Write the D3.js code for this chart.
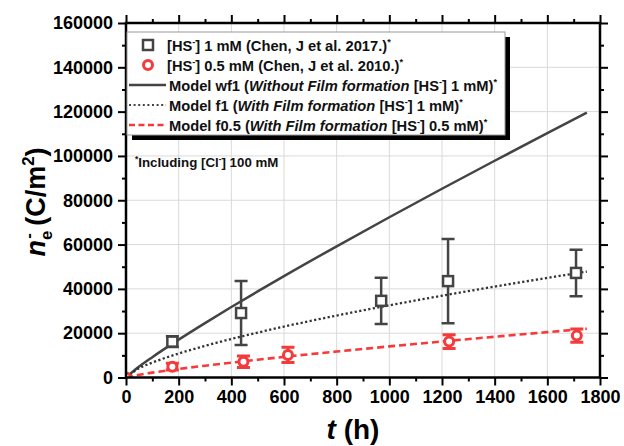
<!DOCTYPE html>
<html>
<head>
<meta charset="utf-8">
<script src="https://cdn.jsdelivr.net/npm/d3@7"></script>
<style>
  body { margin: 0; background: #fff; }
  text { font-family: Arial, "Liberation Sans", sans-serif; font-weight: bold; }
</style>
</head>
<body>
<div id="chart"></div>
<script>
// data
var sq_t   = [176, 437, 969, 1223, 1709];
var sq_v   = [16200, 29100, 34600, 43500, 47200];
var sq_err = [2400, 14400, 10400, 19000, 10500];

var ci_t   = [0, 176, 446, 615, 1227, 1712];
var ci_v   = [0, 4900, 7150, 10200, 16200, 18900];
var ci_err = [0, 1500, 2600, 3400, 3100, 3000];

var model_t   = [0, 50, 100, 200, 300, 400, 500, 600, 800, 1000, 1200, 1400, 1600, 1750];
var model_wf1 = [0, 4920, 9180, 17080, 24560, 31800, 38840, 45760, 59210, 72340, 85190, 97820, 110280, 119500];
var model_f1  = [0, 4190, 6730, 10820, 14280, 17390, 20270, 22970, 27960, 32580, 36910, 41030, 44960, 47800];
var model_f05 = [0, 1260, 2200, 3850, 5330, 6710, 8030, 9310, 11720, 14030, 16250, 18390, 20470, 22000];

var xTicks = [0, 200, 400, 600, 800, 1000, 1200, 1400, 1600, 1800];
var yTicks = [0, 20000, 40000, 60000, 80000, 100000, 120000, 140000, 160000];

var GREY = "#444", RED = "#f43a3a";

var W = 624, H = 446;
var	margin = {top: 23, right: 24, bottom: 68.5, left: 126},
	width = W - margin.left - margin.right,
	height = H - margin.top - margin.bottom;

var x = d3.scaleLinear().domain([0, 1800]).range([0, width]);
var y = d3.scaleLinear().domain([0, 160000]).range([height, 0]);

var svg = d3.select("#chart").append("svg")
	.attr("width", W).attr("height", H)
	.append("g")
	.attr("transform", "translate(" + margin.left + "," + margin.top + ")");

svg.append("defs").append("clipPath").attr("id", "clip")
	.append("rect").attr("width", width).attr("height", height);

// grid
svg.append("g").selectAll("line").data(xTicks.slice(1, -1)).enter().append("line")
	.attr("x1", x).attr("x2", x).attr("y1", 0).attr("y2", height)
	.attr("stroke", "#d9d9d9").attr("stroke-width", 1);
svg.append("g").selectAll("line").data(yTicks.slice(1, -1)).enter().append("line")
	.attr("y1", y).attr("y2", y).attr("x1", 0).attr("x2", width)
	.attr("stroke", "#d9d9d9").attr("stroke-width", 1);

// axes: major + minor on all four sides
var xMinor = d3.range(100, 1800, 200), yMinor = d3.range(10000, 160000, 20000);
function axis(gen, vals, size, fmt, tr) {
	var g = svg.append("g").attr("transform", tr || null)
		.call(gen.tickValues(vals).tickSize(size).tickPadding(5).tickFormat(fmt));
	g.select(".domain").remove();
	g.selectAll("line").attr("stroke", "#000").attr("stroke-width", 2);
	g.selectAll("text").attr("font-size", "18px").attr("fill", "#000")
		.style("font-family", "Arial, 'Liberation Sans', sans-serif").style("font-weight", "bold");
	return g;
}
var none = function() { return ""; };
axis(d3.axisBottom(x), xTicks, 8, d3.format("d"), "translate(0," + height + ")");
axis(d3.axisBottom(x), xMinor, 4, none, "translate(0," + height + ")");
axis(d3.axisTop(x), xTicks, 8, none);
axis(d3.axisTop(x), xMinor, 4, none);
axis(d3.axisLeft(y), yTicks, 8, d3.format("d"));
axis(d3.axisLeft(y), yMinor, 4, none);
axis(d3.axisRight(y), yTicks, 8, none, "translate(" + width + ",0)");
axis(d3.axisRight(y), yMinor, 4, none, "translate(" + width + ",0)");

// model lines
function pts(vals) { return model_t.map(function(t, i) { return [t, vals[i]]; }); }
var line = d3.line().x(function(d) { return x(d[0]); }).y(function(d) { return y(d[1]); })
	.curve(d3.curveMonotoneX);
var plot = svg.append("g").attr("clip-path", "url(#clip)");
plot.append("path").attr("d", line(pts(model_wf1))).attr("fill", "none")
	.attr("stroke", GREY).attr("stroke-width", 2.5);
plot.append("path").attr("d", line(pts(model_f1))).attr("fill", "none")
	.attr("stroke", "#333").attr("stroke-width", 2.3).attr("stroke-dasharray", "2.2,2.4");
plot.append("path").attr("d", line(pts(model_f05))).attr("fill", "none")
	.attr("stroke", RED).attr("stroke-width", 2.6).attr("stroke-dasharray", "7,4");

// error bars + markers
function errbars(ts, vs, es, col, w) {
	ts.forEach(function(t, i) {
		if (!es[i]) return;
		var cx = x(t), y0 = y(vs[i] - es[i]), y1 = y(vs[i] + es[i]);
		var g = plot.append("g").attr("stroke", col).attr("stroke-width", w);
		g.append("line").attr("x1", cx).attr("x2", cx).attr("y1", y0).attr("y2", y1);
		g.append("line").attr("x1", cx - 6.5).attr("x2", cx + 6.5).attr("y1", y0).attr("y2", y0);
		g.append("line").attr("x1", cx - 6.5).attr("x2", cx + 6.5).attr("y1", y1).attr("y2", y1);
	});
}
errbars(sq_t, sq_v, sq_err, GREY, 2.5);
errbars(ci_t, ci_v, ci_err, RED, 3);
sq_t.forEach(function(t, i) {
	plot.append("rect").attr("x", x(t) - 5).attr("y", y(sq_v[i]) - 5)
		.attr("width", 10).attr("height", 10)
		.attr("fill", "#fff").attr("stroke", GREY).attr("stroke-width", 2.5);
});
ci_t.forEach(function(t, i) {
	plot.append("circle").attr("cx", x(t)).attr("cy", y(ci_v[i])).attr("r", 4.5)
		.attr("fill", "#fff").attr("stroke", RED).attr("stroke-width", 3);
});

// frame
svg.append("rect").attr("width", width).attr("height", height)
	.attr("fill", "none").attr("stroke", "#000").attr("stroke-width", 2.5);

// rich text helper: [text, "n" | "i" | "sup" | "sub", dx]
function rich(sel, parts, fs) {
	var shift = 0;
	parts.forEach(function(p) {
		var ts = sel.append("tspan").text(p[0]);
		var target = p[1] == "sup" ? -0.4 * fs : p[1] == "sub" ? 0.25 * fs : 0;
		if (target != shift) { ts.attr("dy", target - shift); shift = target; }
		if (p[1] == "sup" || p[1] == "sub") ts.attr("font-size", (fs * 0.62) + "px");
		if (p[1] == "i") ts.attr("font-style", "italic");
		if (p[2]) ts.attr("dx", p[2]);
	});
}

// legend
var legItems = [
	{sym: "sq",  parts: [["[HS", "n"], ["-", "sup"], ["] 1 mM (Chen, J et al. 2017.)", "n"], ["*", "sup"]]},
	{sym: "ci",  parts: [["[HS", "n"], ["-", "sup"], ["] 0.5 mM (Chen, J et al. 2010.)", "n"], ["*", "sup"]]},
	{sym: "wf1", parts: [["Model wf1 (", "n"], ["Without Film formation", "i"], [" [HS", "n"], ["-", "sup"], ["] 1 mM)", "n"], ["*", "sup"]]},
	{sym: "f1",  parts: [["Model f1 (", "n"], ["With Film formation", "i"], [" [HS", "n"], ["-", "sup"], ["] 1 mM)", "n"], ["*", "sup"]]},
	{sym: "f05", parts: [["Model f0.5 (", "n"], ["With Film formation", "i"], [" [HS", "n"], ["-", "sup"], ["] 0.5 mM)", "n"], ["*", "sup"]]}
];
var lg = svg.append("g").attr("transform", "translate(1,9)");
lg.append("rect").attr("x", 5).attr("y", 5).attr("width", 378).attr("height", 103).attr("fill", "#000");
lg.append("rect").attr("x", 0).attr("y", 0).attr("width", 378).attr("height", 103)
	.attr("fill", "#fff").attr("stroke", "#999").attr("stroke-width", 1);
legItems.forEach(function(it, i) {
	var cy = 13 + i * 20;
	var g = lg.append("g").attr("transform", "translate(0," + cy + ")");
	if (it.sym == "sq") g.append("rect").attr("x", 16).attr("y", -5).attr("width", 10).attr("height", 10)
		.attr("fill", "#fff").attr("stroke", GREY).attr("stroke-width", 2.5);
	else if (it.sym == "ci") g.append("circle").attr("cx", 21).attr("cy", 0).attr("r", 4.5)
		.attr("fill", "#fff").attr("stroke", RED).attr("stroke-width", 3);
	else {
		var ln = g.append("line").attr("x1", 2).attr("x2", 39).attr("y1", 0).attr("y2", 0);
		if (it.sym == "wf1") ln.attr("stroke", GREY).attr("stroke-width", 2.5);
		if (it.sym == "f1") ln.attr("stroke", GREY).attr("stroke-width", 2).attr("stroke-dasharray", "2,2.6");
		if (it.sym == "f05") ln.attr("stroke", RED).attr("stroke-width", 2.5).attr("stroke-dasharray", "6,3.5");
	}
	var tx = g.append("text").attr("x", it.sym == "sq" || it.sym == "ci" ? 40 : 42).attr("y", 5.5)
		.attr("font-size", "14.7px").attr("fill", "#111");
	rich(tx, it.parts, 14.7);
});

// note
var note = svg.append("text").attr("x", 9).attr("y", 144).attr("font-size", "13.3px").attr("fill", "#111");
rich(note, [["*", "sup"], ["Including [Cl", "n"], ["-", "sup"], ["] 100 mM", "n"]], 13.3);

// axis titles
var xt = svg.append("text").attr("x", width / 2 - 10).attr("y", height + 61)
	.attr("text-anchor", "middle").attr("font-size", "28px").attr("fill", "#000");
rich(xt, [["t", "i"], [" (h)", "n"]], 28);

var yt = svg.append("text").attr("transform", "translate(" + (45 - margin.left) + "," + 179 + ") rotate(-90)")
	.attr("text-anchor", "middle").attr("font-size", "27px").attr("fill", "#000");
rich(yt, [["n", "i"], ["e", "sub"], ["-", "sup", -8], [" (C/m", "n"], ["2", "sup"], [")", "n"]], 27);
</script>
</body>
</html>
